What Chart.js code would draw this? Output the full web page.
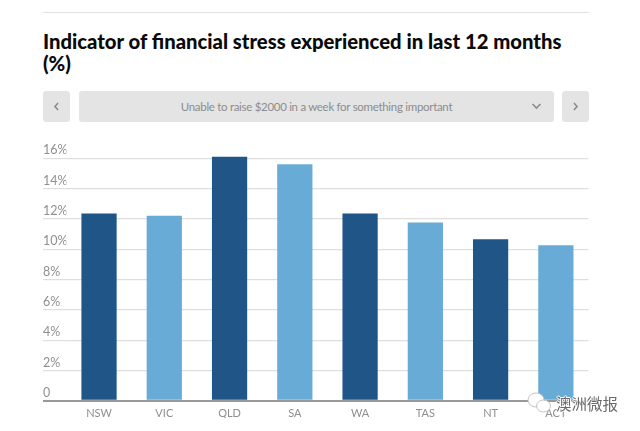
<!DOCTYPE html>
<html>
<head>
<meta charset="utf-8">
<script src="https://cdn.jsdelivr.net/npm/chart.js@4"></script>
<style>
  html, body { margin: 0; padding: 0; background: #fff; overflow: hidden; }
  body { width: 640px; height: 431px; position: relative; font-family: Lato, sans-serif; }
  canvas { position: absolute; left: 0; top: 0; }
  .rule { position: absolute; left: 43px; top: 12px; width: 546px; height: 1px; background: #e2e2e2; }
  h1 { position: absolute; left: 43px; top: 31px; width: 546px; margin: 0; font-size: 20.25px; line-height: 21.5px; font-weight: 900; color: #0a0a0a; }
  .btn { position: absolute; top: 91px; height: 31px; background: #e4e4e4; border-radius: 3px; color: #8c8c8c; text-align: center; }
  .btn svg { position: absolute; top: 11px; }
  #prev { left: 43px; width: 27px; }
  #next { left: 562px; width: 27px; }
  #pick { left: 79px; width: 475px; font-size: 11.5px; letter-spacing: -0.3px; line-height: 31px; }
  .mark { position: absolute; left: 527px; top: 392px; width: 96px; height: 24px; }
  .mark span { position: absolute; left: 29px; top: 0; font: 15.5px "Noto Sans CJK SC"; color: #6a6a6a; white-space: nowrap;
    text-shadow: 1px 0 #fff, -1px 0 #fff, 0 1px #fff, 0 -1px #fff; }
  .mark svg { position: absolute; left: 0; top: 0; }
</style>
</head>
<body>
<div class="rule"></div>
<h1>Indicator of financial stress experienced in last 12 months<br>(%)</h1>
<div class="btn" id="prev"><svg style="left:10px" width="7" height="9" viewBox="0 0 7 9"><path d="M5 1 L2 4.5 L5 8" fill="none" stroke="#8c8c8c" stroke-width="1.6"/></svg></div>
<div class="btn" id="pick">Unable to raise $2000 in a week for something important<svg style="left:452px" width="11" height="8" viewBox="0 0 11 8"><path d="M1.5 2 L5.5 6 L9.5 2" fill="none" stroke="#8c8c8c" stroke-width="1.6"/></svg></div>
<div class="btn" id="next"><svg style="left:10px" width="7" height="9" viewBox="0 0 7 9"><path d="M2 1 L5 4.5 L2 8" fill="none" stroke="#8c8c8c" stroke-width="1.6"/></svg></div>
<canvas id="chart" width="640" height="431"></canvas>
<div class="mark">
  <svg width="26" height="22" viewBox="0 0 26 22">
    <ellipse cx="9" cy="8" rx="8" ry="7" fill="#fff" stroke="#c4c4c4"/>
    <ellipse cx="16.5" cy="14" rx="7" ry="6" fill="#fff" stroke="#c4c4c4"/>
  </svg>
  <span>澳洲微报</span>
</div>
<script>
const categories = ['NSW', 'VIC', 'QLD', 'SA', 'WA', 'TAS', 'NT', 'ACT'];
const stressValues = [12.35, 12.2, 16.1, 15.6, 12.35, 11.75, 10.65, 10.25];
const yTicks = [0, 2, 4, 6, 8, 10, 12, 14, 16];
const darkBlue = '#1f5587';
const lightBlue = '#68abd6';

new Chart(document.getElementById('chart'), {
  type: 'bar',
  data: {
    labels: categories,
    datasets: [{
      data: stressValues,
      backgroundColor: (ctx) => (ctx.dataIndex % 2 === 0 ? darkBlue : lightBlue),
      barPercentage: 0.54,
      categoryPercentage: 1,
    }],
  },
  options: {
    responsive: false,
    animation: false,
    layout: { padding: { left: 43, right: 51.5, top: 143, bottom: 13 } },
    plugins: { legend: { display: false }, tooltip: { enabled: false } },
    scales: {
      x: {
        grid: { display: false },
        border: { display: false },
        ticks: { color: '#8f8f8f', padding: -2, font: { family: 'Lato', size: 11 }, maxRotation: 0 },
      },
      y: {
        min: 0,
        max: 17,
        afterFit: (scale) => { scale.width = 23.4; },
        afterBuildTicks: (scale) => { scale.ticks = yTicks.map((value) => ({ value })); },
        border: { display: false },
        grid: {
          color: (ctx) => (ctx.tick.value === 0 ? '#999' : '#dedede'),
          lineWidth: (ctx) => (ctx.tick.value === 0 ? 2 : 1.2),
          tickLength: 23.4,
        },
        ticks: {
          color: '#8f8f8f',
          crossAlign: 'far',
          labelOffset: -8,
          font: { family: 'Lato', size: 12.5 },
          callback: (value) => (value === 0 ? '0' : `${value}%`),
        },
      },
    },
  },
});
</script>
</body>
</html>
